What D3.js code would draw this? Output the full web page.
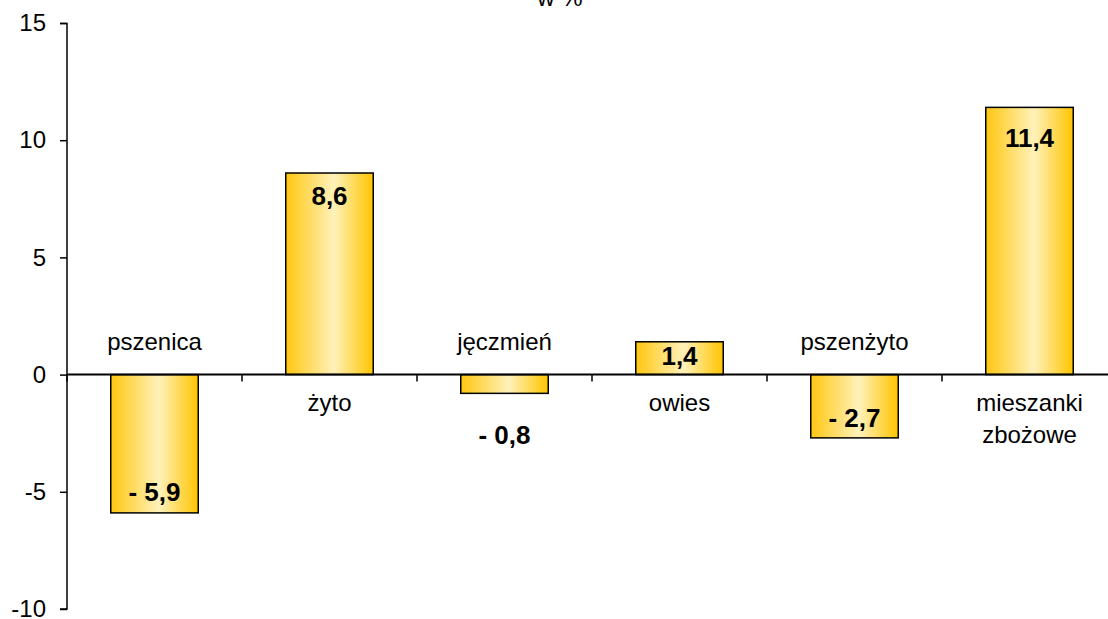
<!DOCTYPE html>
<html><head><meta charset="utf-8">
<script src="https://cdn.jsdelivr.net/npm/d3@7"></script>
<style>body{margin:0;background:#fff}svg{display:block;font-family:"Liberation Sans",Arial,sans-serif}</style>
</head><body><svg id="c" width="1108" height="619"></svg>
<script>
const categories = ["pszenica", "żyto", "jęczmień", "owies", "pszenżyto", "mieszanki zbożowe"];
const values = [-5.9, 8.6, -0.8, 1.4, -2.7, 11.4];
const valueLabels = ["- 5,9", "8,6", "- 0,8", "1,4", "- 2,7", "11,4"];
const yTicks = [-10, -5, 0, 5, 10, 15];
const title = "w %";

const svg = d3.select("#c");
const x = d3.scaleBand().domain(categories).range([67, 1117]).paddingInner(0.5).paddingOuter(0.25);
const y = d3.scaleLinear().domain([-10, 15]).range([609, 23]);

const defs = svg.append("defs");
const g = defs.append("linearGradient").attr("id", "gold").attr("x1", "0").attr("x2", "1").attr("y1", "0").attr("y2", "0");
g.append("stop").attr("offset", "0").attr("stop-color", "#FFC710");
g.append("stop").attr("offset", "0.55").attr("stop-color", "#FFF1BA");
g.append("stop").attr("offset", "1").attr("stop-color", "#FFC400");

// title (cut at top edge as in the original)
svg.append("text").attr("x", 560).attr("y", 6).attr("text-anchor", "middle")
  .attr("font-size", 24).text(title);

// bars
svg.selectAll("rect.bar").data(values).join("rect").attr("class", "bar")
  .attr("x", (d, i) => x(categories[i]))
  .attr("width", x.bandwidth())
  .attr("y", d => y(Math.max(0, d)))
  .attr("height", d => Math.abs(y(d) - y(0)))
  .attr("fill", "url(#gold)").attr("stroke", "#000").attr("stroke-width", 1.5);

// y axis
const yAxis = svg.append("g").attr("transform", "translate(67,0)")
  .call(d3.axisLeft(y).tickValues(yTicks).tickSize(7).tickPadding(14).tickFormat(d3.format("d")));
yAxis.attr("font-size", null).attr("font-family", null);
yAxis.select(".domain").attr("stroke-width", 1.5).attr("d", "M-7,23.5H0V609H-7");
yAxis.selectAll(".tick line").attr("stroke-width", 1.5);
yAxis.selectAll("text").attr("font-size", 24).attr("fill", "#000").text(d => String(d).replace("\u2212", "-")).each(function(d){ d3.select(this).text(d < 0 ? "-" + Math.abs(d) : String(d)); });

// x axis at zero
const xAxisG = svg.append("g").attr("transform", `translate(0,${y(0)})`);
xAxisG.append("line").attr("x1", 67).attr("x2", 1117).attr("stroke", "#000").attr("stroke-width", 2);
xAxisG.selectAll("line.t").data(categories).join("line").attr("class", "t")
  .attr("x1", c => x(c) - (x.step() - x.bandwidth()) / 2)
  .attr("x2", c => x(c) - (x.step() - x.bandwidth()) / 2)
  .attr("y1", 0).attr("y2", 7).attr("stroke", "#000").attr("stroke-width", 1.5);

// category labels: above axis for negative, below for positive
categories.forEach((c, i) => {
  const cx = x(c) + x.bandwidth() / 2;
  const parts = c === "mieszanki zbożowe" ? ["mieszanki", "zbożowe"] : [c];
  const t = svg.append("text").attr("text-anchor", "middle").attr("font-size", 24).attr("fill", "#000");
  parts.forEach((p, k) => {
    const baseY = values[i] < 0 ? y(0) - 25 : y(0) + 36;
    t.append("tspan").attr("x", cx).attr("y", baseY + k * 32).text(p);
  });
});

// value labels
const labelShift = [-12, 32, 51, 23, -11, 40];
svg.selectAll("text.val").data(values).join("text").attr("class", "val")
  .attr("x", (d, i) => x(categories[i]) + x.bandwidth() / 2)
  .attr("y", (d, i) => y(d) + labelShift[i])
  .attr("text-anchor", "middle").attr("font-size", 26).attr("font-weight", "bold").attr("fill", "#000")
  .text((d, i) => valueLabels[i]);
</script></body></html>
